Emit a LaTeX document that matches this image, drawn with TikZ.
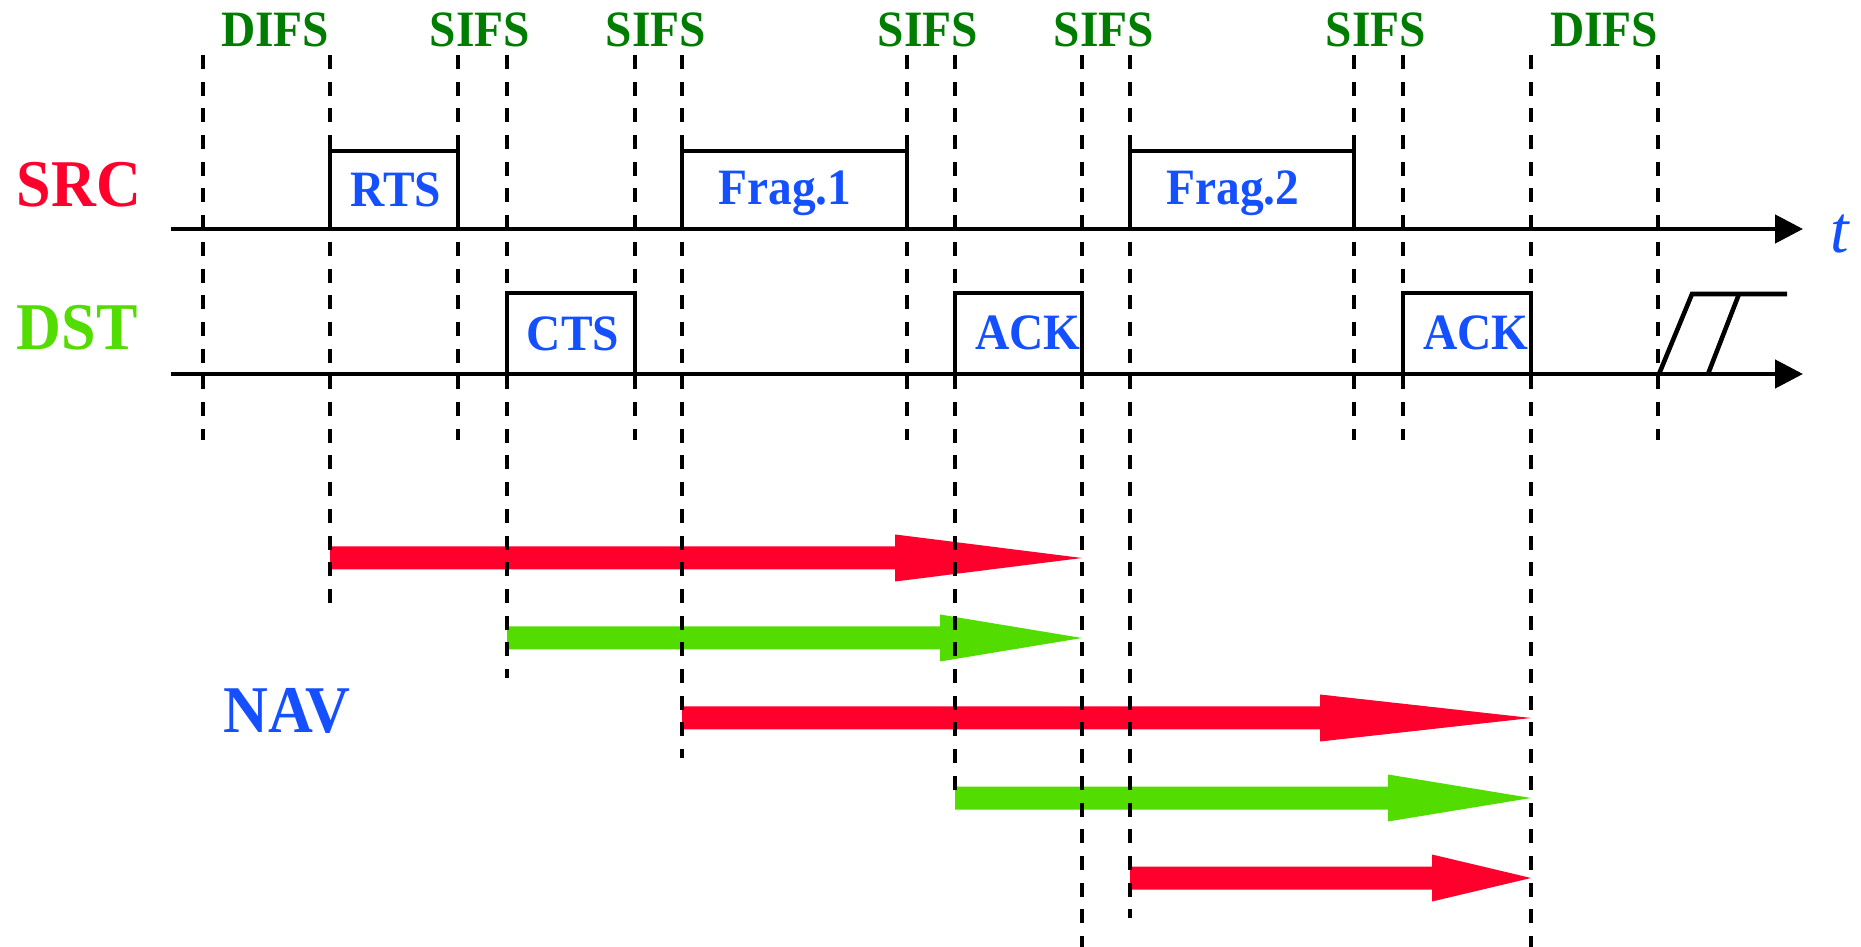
\documentclass[tikz,border=0pt]{standalone}
\usepackage{fontspec}
\setmainfont{Liberation Serif}
\newfontfamily\tallserif[FakeStretch=0.93]{Liberation Serif}
\usetikzlibrary{arrows.meta}

\definecolor{srcred}{RGB}{255,0,45}
\definecolor{dstgreen}{RGB}{82,220,0}
\definecolor{ifsgreen}{RGB}{0,125,0}
\definecolor{txtblue}{RGB}{20,80,255}

% NAV bar: colour, start x, head base x, tip x, centre y
\newcommand\navarrow[5]{%
  \fill[#1] (#2,#5-11.5) -- (#3,#5-11.5) -- (#3,#5-23.5) -- (#4,#5)
    -- (#3,#5+23.5) -- (#3,#5+11.5) -- (#2,#5+11.5) -- cycle;}

\begin{document}
\begin{tikzpicture}[x=0.1mm,y=-0.1mm,
  ifs/.style={text=ifsgreen, font=\tallserif\bfseries\fontsize{14.5}{16}\selectfont, inner sep=0, anchor=base},
  frame/.style={text=txtblue, font=\tallserif\bfseries\fontsize{14.5}{16}\selectfont, inner sep=0, anchor=base},
  station/.style={font=\tallserif\bfseries\fontsize{19}{22}\selectfont, inner sep=0, anchor=base west},
  timeline/.style={line width=1.3pt, -{Triangle[length=2.8mm,width=2.8mm]}},
  pulse/.style={line width=1.3pt, line join=miter},
  ifsline/.style={line width=1.1pt, dash pattern=on 1.4mm off 1.27mm},
]
\useasboundingbox (0,0) rectangle (1861,947);

% NAV durations
\navarrow{srcred}{330}{895}{1082}{558}
\navarrow{dstgreen}{507}{940}{1082}{638}
\navarrow{srcred}{682}{1320}{1531}{718}
\navarrow{dstgreen}{955}{1388}{1531}{798}
\navarrow{srcred}{1130}{1432}{1531}{878}

% interframe space boundaries
\foreach \x/\yend in {203/440, 330/613, 458/440, 507/678, 635/440, 682/758,
                      907/440, 955/792, 1082/947, 1130/918, 1354/440,
                      1403/440, 1531/947, 1658/440}
  \draw[ifsline] (\x,55) -- (\x,\yend);

% time axes
\draw[timeline] (171,229) -- (1803,229);
\draw[timeline] (171,374) -- (1803,374);

% frames on the source line
\draw[pulse] (330,229) -- (330,151) -- (458,151) -- (458,229);
\draw[pulse] (682,229) -- (682,151) -- (907,151) -- (907,229);
\draw[pulse] (1130,229) -- (1130,151) -- (1354,151) -- (1354,229);

% frames on the destination line
\draw[pulse] (507,374) -- (507,293) -- (635,293) -- (635,374);
\draw[pulse] (955,374) -- (955,293) -- (1082,293) -- (1082,374);
\draw[pulse] (1403,374) -- (1403,293) -- (1531,293) -- (1531,374);

% next transmission after DIFS
\draw[pulse] (1659,374) -- (1692,294) -- (1787,294);
\draw[pulse] (1708,374) -- (1739,294);

% interval labels
\node[ifs] (difsA) at (275,47) {DIFS};
\node[ifs] (sifsA) at (480,47) {SIFS};
\node[ifs] (sifsB) at (656,47) {SIFS};
\node[ifs] (sifsC) at (928,47) {SIFS};
\node[ifs] (sifsD) at (1104,47) {SIFS};
\node[ifs] (sifsE) at (1376,47) {SIFS};
\node[ifs] (difsB) at (1604,47) {DIFS};

% frame names
\node[frame] (rts) at (396,207) {RTS};
\node[frame] (frag1) at (785,205) {Frag.1};
\node[frame] (frag2) at (1233,205) {Frag.2};
\node[frame] (cts) at (573,351) {CTS};
\node[frame] (ackA) at (1028,350) {ACK};
\node[frame] (ackB) at (1476,350) {ACK};

% stations and axis name
\node[station, text=srcred] (src) at (16,207) {SRC};
\node[station, text=dstgreen] (dst) at (16,350) {DST};
\node[station, text=txtblue] (nav) at (223,733) {NAV};
\node[text=txtblue, font=\itshape\fontsize{19}{21}\selectfont, inner sep=0, anchor=base] (tlabel) at (1840,253) {t};
\end{tikzpicture}
\end{document}
